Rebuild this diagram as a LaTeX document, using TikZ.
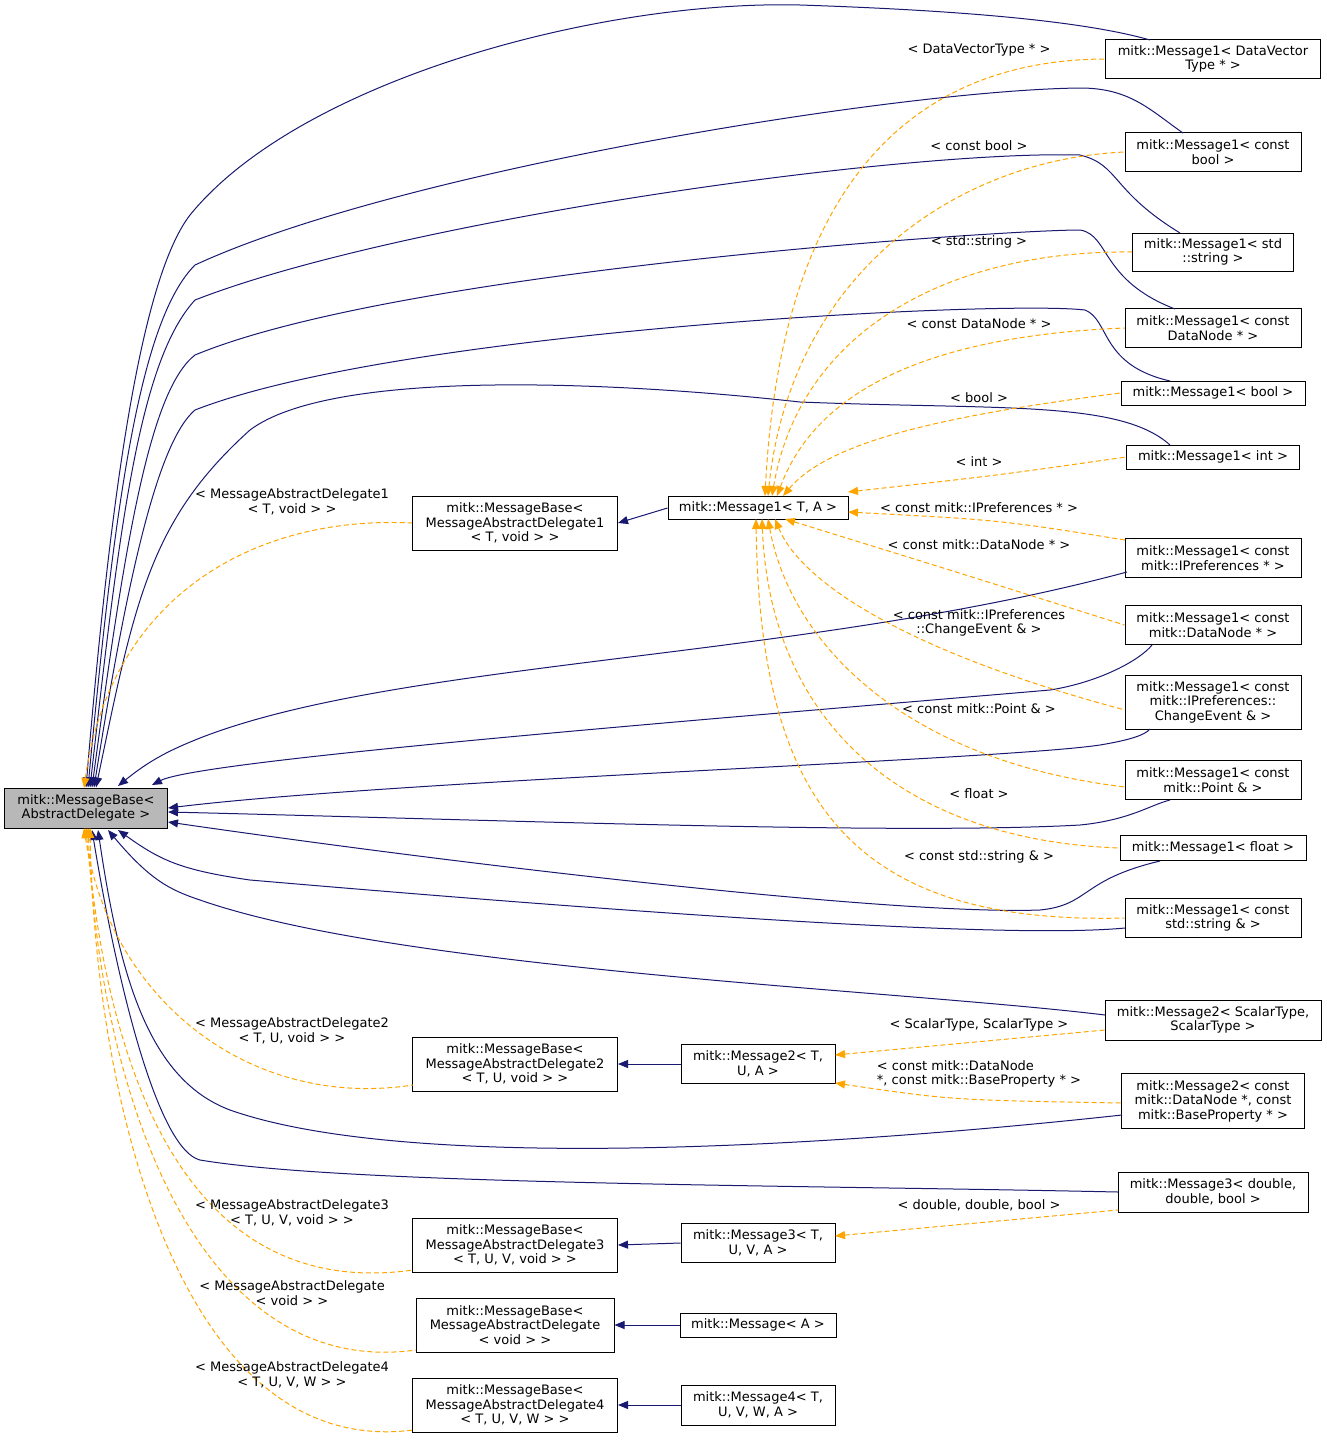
\documentclass[tikz,border=0pt]{standalone}
\usepackage{fontspec}
\setmainfont{DejaVu Sans}
\usetikzlibrary{arrows.meta}
\definecolor{navyE}{HTML}{191970}
\definecolor{orE}{HTML}{FFA500}
\begin{document}
\begin{tikzpicture}[x=1pt,y=-1pt,
  font=\fontsize{13}{14.5}\selectfont,line width=1pt,
  box/.style={draw,fill=white,align=center,inner sep=1pt},
  blu/.style={draw=navyE,{Triangle[length=10pt,width=8pt]}-,fill=none},
  org/.style={draw=orE,dash pattern=on 5pt off 3pt,{Triangle[length=10pt,width=8pt]}-},
  lab/.style={align=center,inner sep=0pt}]
\useasboundingbox (0,0) rectangle (1327,1443);
% nodes
\node[box,fill=black!28,minimum width=163pt,minimum height=40pt] (base) at (86,808) {mitk::MessageBase\textless\\AbstractDelegate \textgreater};
\node[box,minimum width=205pt,minimum height=54pt] (d1) at (515,523) {mitk::MessageBase\textless\\MessageAbstractDelegate1\\\textless{} T, void \textgreater{} \textgreater};
\node[box,minimum width=180pt,minimum height=23pt] (m1) at (758,508) {mitk::Message1\textless{} T, A \textgreater};
\node[box,minimum width=215pt,minimum height=39pt] (dvt) at (1213,59) {mitk::Message1\textless{} DataVector\\Type * \textgreater};
\node[box,minimum width=176pt,minimum height=39pt] (cb) at (1213,152) {mitk::Message1\textless{} const\\bool \textgreater};
\node[box,minimum width=161pt,minimum height=38pt] (ss) at (1213,252) {mitk::Message1\textless{} std\\::string \textgreater};
\node[box,minimum width=176pt,minimum height=39pt] (cdn) at (1213,328) {mitk::Message1\textless{} const\\DataNode * \textgreater};
\node[box,minimum width=184pt,minimum height=24pt] (bo) at (1213,393) {mitk::Message1\textless{} bool \textgreater};
\node[box,minimum width=173pt,minimum height=24pt] (in) at (1213,457) {mitk::Message1\textless{} int \textgreater};
\node[box,minimum width=176pt,minimum height=39pt] (ip) at (1213,558) {mitk::Message1\textless{} const\\mitk::IPreferences * \textgreater};
\node[box,minimum width=176pt,minimum height=39pt] (mdn) at (1213,625) {mitk::Message1\textless{} const\\mitk::DataNode * \textgreater};
\node[box,minimum width=176pt,minimum height=54pt] (ce) at (1213,702) {mitk::Message1\textless{} const\\mitk::IPreferences::\\ChangeEvent \& \textgreater};
\node[box,minimum width=176pt,minimum height=39pt] (pt) at (1213,780) {mitk::Message1\textless{} const\\mitk::Point \& \textgreater};
\node[box,minimum width=186pt,minimum height=25pt] (fl) at (1213,848) {mitk::Message1\textless{} float \textgreater};
\node[box,minimum width=176pt,minimum height=39pt] (sr) at (1213,918) {mitk::Message1\textless{} const\\std::string \& \textgreater};
\node[box,minimum width=216pt,minimum height=40pt] (m2s) at (1213,1020) {mitk::Message2\textless{} ScalarType,\\ScalarType \textgreater};
\node[box,minimum width=183pt,minimum height=55pt] (m2d) at (1213,1101) {mitk::Message2\textless{} const\\mitk::DataNode *, const\\mitk::BaseProperty * \textgreater};
\node[box,minimum width=190pt,minimum height=40pt] (m3d) at (1213,1192) {mitk::Message3\textless{} double,\\double, bool \textgreater};
\node[box,minimum width=205pt,minimum height=54pt] (d2) at (515,1064) {mitk::MessageBase\textless\\MessageAbstractDelegate2\\\textless{} T, U, void \textgreater{} \textgreater};
\node[box,minimum width=154pt,minimum height=39pt] (m2t) at (758,1064) {mitk::Message2\textless{} T,\\U, A \textgreater};
\node[box,minimum width=205pt,minimum height=54pt] (d3) at (515,1245) {mitk::MessageBase\textless\\MessageAbstractDelegate3\\\textless{} T, U, V, void \textgreater{} \textgreater};
\node[box,minimum width=154pt,minimum height=39pt] (m3t) at (758,1243) {mitk::Message3\textless{} T,\\U, V, A \textgreater};
\node[box,minimum width=198pt,minimum height=54pt] (dv) at (515,1325) {mitk::MessageBase\textless\\MessageAbstractDelegate\\\textless{} void \textgreater{} \textgreater};
\node[box,minimum width=156pt,minimum height=24pt] (ma) at (758,1325) {mitk::Message\textless{} A \textgreater};
\node[box,minimum width=205pt,minimum height=54pt] (d4) at (515,1405) {mitk::MessageBase\textless\\MessageAbstractDelegate4\\\textless{} T, U, V, W \textgreater{} \textgreater};
\node[box,minimum width=154pt,minimum height=40pt] (m4t) at (758,1405) {mitk::Message4\textless{} T,\\U, V, W, A \textgreater};
% blue inheritance edges to base
\begin{scope}[navyE]
\draw[blu] (base.north) .. controls (110,500) and (140,280) .. (190,215) .. controls (300,80) and (600,0) .. (800,5) .. controls (950,10) and (1080,20) .. (1150,40);
\draw[blu] ([xshift=2pt]base.north) .. controls (115,500) and (140,320) .. (195,265) .. controls (400,170) and (900,90) .. (1080,88) .. controls (1130,88) and (1150,110) .. (1183,133);
\draw[blu] ([xshift=4pt]base.north) .. controls (120,520) and (140,360) .. (195,300) .. controls (400,220) and (900,150) .. (1080,155) .. controls (1120,165) and (1110,190) .. (1180,233);
\draw[blu] ([xshift=6pt]base.north) .. controls (125,540) and (150,390) .. (195,355) .. controls (400,270) and (1000,230) .. (1080,230) .. controls (1110,235) and (1100,280) .. (1175,309);
\draw[blu] ([xshift=8pt]base.north) .. controls (130,560) and (160,440) .. (195,410) .. controls (400,330) and (1000,300) .. (1085,310) .. controls (1110,320) and (1100,365) .. (1170,381);
\draw[blu] ([xshift=10pt]base.north) .. controls (135,600) and (150,520) .. (250,430) .. controls (330,370) and (600,380) .. (800,402) .. controls (1000,410) and (1120,400) .. (1170,445);
\draw[blu] (118,786) .. controls (150,760) and (170,750) .. (200,738) .. controls (400,660) and (800,660) .. (1127,572);
\draw[blu] (152,785) .. controls (200,760) and (700,720) .. (1050,690) .. controls (1100,682) and (1140,660) .. (1152,645);
\draw[blu] (base.east) .. controls (400,780) and (1000,760) .. (1100,745) .. controls (1130,740) and (1145,735) .. (1150,729);
\draw[blu] ([yshift=-4pt]base.east) .. controls (500,820) and (900,835) .. (1080,825) .. controls (1130,820) and (1150,805) .. (1170,800);
\draw[blu] ([yshift=-14pt]base.east) .. controls (500,870) and (900,915) .. (1040,910) .. controls (1090,905) and (1080,880) .. (1160,861);
\draw[blu] (118,830) .. controls (160,860) and (180,870) .. (250,880) .. controls (600,910) and (1000,940) .. (1125,928);
\draw[blu] (108,830) .. controls (150,880) and (170,890) .. (200,900) .. controls (400,970) and (900,990) .. (1105,1015);
\draw[blu] (98,830) .. controls (120,980) and (150,1080) .. (230,1110) .. controls (400,1170) and (800,1150) .. (1122,1115);
\draw[blu] (92,830) .. controls (120,1000) and (160,1150) .. (200,1160) .. controls (350,1185) and (800,1185) .. (1118,1192);
\draw[blu] (d1.east) -- (m1.west);
\draw[blu] (d2.east) -- (m2t.west);
\draw[blu] (d3.east) -- (m3t.west);
\draw[blu] (dv.east) -- (ma.west);
\draw[blu] (d4.east) -- (m4t.west);
\end{scope}
% orange template edges
\draw[org] (84,788) .. controls (110,600) and (250,515) .. (d1.west);
\draw[org] (84,828) .. controls (110,1000) and (250,1110) .. (413,1085);
\draw[org] (86,828) .. controls (110,1100) and (200,1300) .. (413,1270);
\draw[org] (88,828) .. controls (100,1100) and (200,1380) .. (416,1350);
\draw[org] (90,828) .. controls (95,1100) and (180,1460) .. (413,1430);
\draw[org] (765,496) .. controls (780,200) and (900,60) .. (dvt.west);
\draw[org] (768,496) .. controls (790,280) and (950,160) .. (cb.west);
\draw[org] (772,496) .. controls (800,330) and (950,250) .. (ss.west);
\draw[org] (777,496) .. controls (820,380) and (950,335) .. (cdn.west);
\draw[org] (783,496) .. controls (830,440) and (950,415) .. (bo.west);
\draw[org] (848,492) .. controls (1000,475) .. (in.west);
\draw[org] (848,512) .. controls (1000,520) .. (1125,540);
\draw[org] (785,519) .. controls (950,570) .. (mdn.west);
\draw[org] (775,519) .. controls (800,580) and (900,650) .. (1125,710);
\draw[org] (768,519) .. controls (790,640) and (900,760) .. (1125,787);
\draw[org] (762,519) .. controls (770,720) and (900,840) .. (fl.west);
\draw[org] (756,519) .. controls (760,800) and (850,925) .. (sr.west);
\draw[org] (835,1055) -- (1105,1030);
\draw[org] (835,1083) .. controls (950,1100) .. (1122,1103);
\draw[org] (835,1236) -- (1118,1210);
% labels
\node[lab] (l1) at (292,502) {\textless{} MessageAbstractDelegate1\\\textless{} T, void \textgreater{} \textgreater};
\node[lab] (l2) at (292,1031) {\textless{} MessageAbstractDelegate2\\\textless{} T, U, void \textgreater{} \textgreater};
\node[lab] (l3) at (292,1213) {\textless{} MessageAbstractDelegate3\\\textless{} T, U, V, void \textgreater{} \textgreater};
\node[lab] (l4) at (292,1293) {\textless{} MessageAbstractDelegate\\\textless{} void \textgreater{} \textgreater};
\node[lab] (l5) at (292,1375) {\textless{} MessageAbstractDelegate4\\\textless{} T, U, V, W \textgreater{} \textgreater};
\node[lab] (la) at (979,50) {\textless{} DataVectorType * \textgreater};
\node[lab] (lb) at (979,146) {\textless{} const bool \textgreater};
\node[lab] (lc) at (979,242) {\textless{} std::string \textgreater};
\node[lab] (ld) at (979,324) {\textless{} const DataNode * \textgreater};
\node[lab] (le) at (979,398) {\textless{} bool \textgreater};
\node[lab] (lf) at (979,462) {\textless{} int \textgreater};
\node[lab] (lg) at (979,508) {\textless{} const mitk::IPreferences * \textgreater};
\node[lab] (lh) at (979,545) {\textless{} const mitk::DataNode * \textgreater};
\node[lab] (li) at (979,623) {\textless{} const mitk::IPreferences\\::ChangeEvent \& \textgreater};
\node[lab] (lj) at (979,709) {\textless{} const mitk::Point \& \textgreater};
\node[lab] (lk) at (979,794) {\textless{} float \textgreater};
\node[lab] (ll) at (979,857) {\textless{} const std::string \& \textgreater};
\node[lab] (lm) at (979,1025) {\textless{} ScalarType, ScalarType \textgreater};
\node[lab,align=left] (ln) at (979,1074) {\textless{} const mitk::DataNode\\*, const mitk::BaseProperty * \textgreater};
\node[lab] (lo) at (979,1205) {\textless{} double, double, bool \textgreater};
\end{tikzpicture}
\end{document}
